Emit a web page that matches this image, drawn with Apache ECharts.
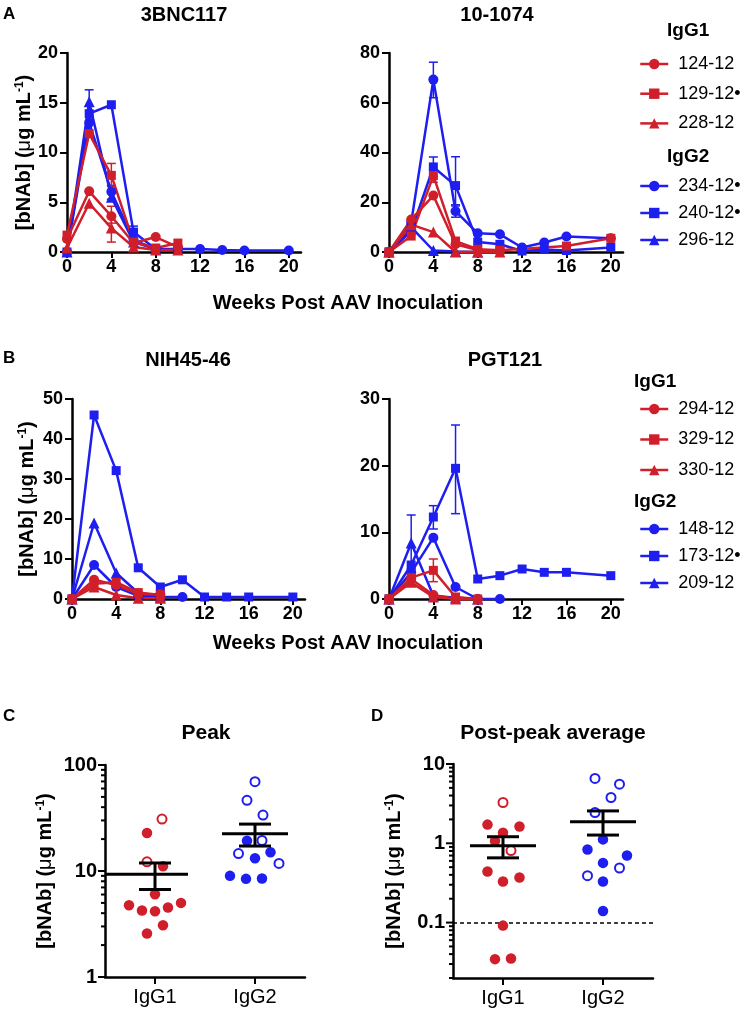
<!DOCTYPE html>
<html><head><meta charset="utf-8">
<script src="https://cdn.jsdelivr.net/npm/echarts@6/dist/echarts.min.js"></script>
<style>html,body{margin:0;padding:0;background:#fff}#c{width:747px;height:1012px}</style>
</head><body><div id="c"></div>
<script>
// ---------- DATA ----------
const weeks = [0, 2, 4, 6, 8, 10, 12, 14, 16, 20];
const weekTicks = [0, 4, 8, 12, 16, 20];
const groups = ['IgG1', 'IgG2'];

// Panel A, 3BNC117
const a3bnc_124 = [1.3, 6.1, 3.6, 0.9, 1.5, 0.5];
const a3bnc_129 = [1.7, 11.9, 7.7, 1.0, 0.4, 0.9];
const a3bnc_228 = [0.4, 4.9, 2.4, 0.5, 0.2, 0.2];
const a3bnc_234 = [0, 13.0, 6.06, 1.2, 0.3, 0.3, 0.3, 0.2, 0.15, 0.15];
const a3bnc_240 = [0, 13.9, 14.8, 2.0, 0.3, 0.2];
const a3bnc_296 = [0, 15.1, 5.5, 1.0, 0.3];
const a3bnc_errRed = [[4, 6.6, 8.9], [4, 1.0, 3.5], [4, 2.9, 4.6]];
const a3bnc_errBlue = [[2, 11.8, 16.3], [4, 5.3, 6.7], [6, 1.4, 2.6]];

// Panel A, 10-1074
const a10_124 = [0, 13.1, 22.7, 3.1, 0.8, 0.5];
const a10_129 = [0, 6.4, 30.7, 4.4, 1.1, 0.7, null, null, 2.4, 5.5];
const a10_228 = [0, 11, 8.0, 0, 0, 0];
const a10_234 = [0, 11.8, 69.3, 16.4, 7.5, 7.1, 1.8, 3.8, 6.2, 5.5];
const a10_240 = [0, 8.4, 34.2, 26.7, 4.0, 3.1, 0.4, 1.0, 0.6, 1.8];
const a10_296 = [0, 10, 0.6, 0.2, 0];
const a10_errRed = [[4, 28, 33]];
const a10_errBlue = [[4, 62, 76.3], [4, 30.5, 38.2], [6, 18.5, 38.3], [6, 14, 19]];

// Panel B, NIH45-46
const bNih_294 = [0, 4.8, 3.5, 1.2, 1.2];
const bNih_329 = [0, 3.8, 4.2, 1.6, 1.0];
const bNih_330 = [0, 3.0, 1.0, 0.2, 0.2];
const bNih_148 = [0, 8.5, 3.0, 0.8, 0.5, 0.5];
const bNih_173 = [0, 46, 32.1, 7.8, 3.0, 4.8, 0.5, 0.5, 0.5, 0.5];
const bNih_209 = [0, 19, 6.5, 1.5, 0.5];

// Panel B, PGT121
const bPgt_294 = [0, 3.0, 0.6, 0, 0];
const bPgt_329 = [0, 3.2, 4.3, 0.3, 0];
const bPgt_330 = [0, 2.5, 0.3, 0, 0];
const bPgt_148 = [0, 4.0, 9.2, 1.8, 0, 0];
const bPgt_173 = [0, 5.1, 12.3, 19.6, 3.0, 3.5, 4.5, 4.0, 4.0, 3.5];
const bPgt_209 = [0, 8.4, 0.5, 0.2, 0];
const bPgt_errRed = [[4, 2.6, 6.0]];
const bPgt_errBlue = [[2, 4.5, 12.6], [4, 10.5, 14], [6, 12.8, 26.1]];

// Panel C, Peak
const peakIgG1 = [30.9, 22.8, 12.2, 11.1, 6.04, 4.75, 4.24, 4.17, 4.52, 5.0, 3.08, 2.57];
const peakIgG1Open = [1, 0, 1, 0, 0, 0, 0, 0, 0, 0, 0, 0];
const peakIgG1Jitter = [0.07, -0.08, -0.08, 0.08, 0, -0.26, -0.13, 0, 0.13, 0.26, 0.08, -0.08];
const peakIgG2 = [69.6, 46.4, 33.7, 19.4, 19.3, 14.6, 15.0, 13.2, 11.8, 9.0, 8.43, 8.5];
const peakIgG2Open = [1, 1, 1, 1, 0, 1, 0, 0, 1, 0, 0, 0];
const peakIgG2Jitter = [0, -0.08, 0.08, 0.07, -0.08, -0.165, 0.155, 0, 0.24, -0.25, -0.09, 0.07];
const peakMean = [9.33, 22.4];
const peakSemLow = [6.69, 17.2];
const peakSemHigh = [11.9, 27.7];

// Panel D, Post-peak average
const postIgG1 = [3.27, 1.72, 1.63, 1.36, 1.07, 0.81, 0.44, 0.37, 0.33, 0.0916, 0.0346, 0.0353];
const postIgG1Open = [1, 0, 0, 0, 0, 1, 0, 0, 0, 0, 0, 0];
const postIgG1Jitter = [0, -0.155, 0.165, 0, -0.08, 0.08, -0.155, 0.165, 0, 0, -0.08, 0.08];
const postIgG2 = [6.58, 5.57, 3.78, 2.44, 1.12, 0.836, 0.70, 0.566, 0.488, 0.39, 0.33, 0.14];
const postIgG2Open = [1, 1, 1, 1, 0, 0, 0, 0, 1, 1, 0, 0];
const postIgG2Jitter = [-0.08, 0.165, 0.08, -0.08, 0, -0.155, 0.24, 0, 0.165, -0.155, 0, 0];
const postMean = [0.93, 1.87];
const postSemLow = [0.655, 1.27];
const postSemHigh = [1.21, 2.56];
const detectionLimit = 0.1;

// ---------- STYLE ----------
const FONT = '"Liberation Sans", Arial, Helvetica, sans-serif';
const RED = '#D01F2A';
const BLUE = '#1E1EF0';
const BLACK = '#000';

const yName = '{b|[bNAb] (}{m|\u03bc}{b|g mL}{s|-1}{b|)}';
const nameStyle = {
  fontFamily: FONT, color: BLACK,
  rich: {
    b: {fontSize: 20, fontWeight: 'bold', fontFamily: FONT, color: BLACK},
    m: {fontSize: 20, fontWeight: 'normal', fontFamily: FONT, color: BLACK},
    s: {fontSize: 12, fontWeight: 'bold', fontFamily: FONT, color: BLACK, verticalAlign: 'top'}
  }
};
const axLine = {show: true, onZero: false, lineStyle: {color: BLACK, width: 2.5}};

function weekAxis(g) {
  return {type: 'value', gridIndex: g, min: 0, max: 21.1,
    axisLine: axLine,
    axisTick: {show: true, customValues: weekTicks, length: 6, lineStyle: {color: BLACK, width: 2}},
    axisLabel: {customValues: weekTicks, margin: 6, fontSize: 18, fontWeight: 'bold', color: BLACK, fontFamily: FONT},
    splitLine: {show: false}};
}
function concAxis(g, max, interval, gap) {
  const ax = {type: 'value', gridIndex: g, min: 0, max: max, interval: interval,
    axisLine: axLine,
    axisTick: {show: true, length: 7, lineStyle: {color: BLACK, width: 2}},
    axisLabel: {margin: 9, fontSize: 18, fontWeight: 'bold', color: BLACK, fontFamily: FONT},
    splitLine: {show: false}};
  if (gap != null) {
    ax.name = yName; ax.nameLocation = 'middle'; ax.nameRotate = 90; ax.nameGap = gap; ax.nameTextStyle = nameStyle;
  }
  return ax;
}
function groupAxis(g) {
  return {type: 'value', gridIndex: g, min: 0.5, max: 2.5,
    axisLine: axLine,
    axisTick: {show: true, customValues: [1, 2], length: 7, lineStyle: {color: BLACK, width: 2}},
    axisLabel: {customValues: [1, 2], margin: 10, fontSize: 20, color: BLACK, fontFamily: FONT,
      formatter: v => groups[Math.round(v) - 1]},
    splitLine: {show: false}};
}
function logAxis(g, min, max, gap) {
  return {type: 'log', logBase: 10, gridIndex: g, min: min, max: max,
    axisLine: axLine, axisTick: {show: false},
    axisLabel: {margin: 8, fontSize: 20, fontWeight: 'bold', color: BLACK, fontFamily: FONT,
      formatter: v => { const l = Math.log10(v); return Math.abs(l - Math.round(l)) < 1e-6 ? String(+Math.pow(10, Math.round(l)).toPrecision(3)) : ''; }},
    splitLine: {show: false}, minorSplitLine: {show: false},
    name: yName, nameLocation: 'middle', nameRotate: 90, nameGap: gap, nameTextStyle: nameStyle};
}

const symSize = {circle: 10, rect: 9, triangle: 11};
function ls(name, vals, color, symbol, p) {
  return {type: 'line', name: name, xAxisIndex: p, yAxisIndex: p,
    data: weeks.map((w, i) => [w, vals[i]]).filter(d => d[1] != null),
    symbol: symbol, symbolSize: symSize[symbol], showAllSymbol: true,
    lineStyle: {color: color, width: 2.5}, itemStyle: {color: color, opacity: 1},
    emphasis: {disabled: true}, clip: false, z: 3};
}
function errSeries(p, data, color) {
  return {type: 'custom', xAxisIndex: p, yAxisIndex: p, data: data, silent: true, clip: false, z: 2,
    renderItem(params, api) {
      const x = api.value(0), lo = api.value(1), hi = api.value(2);
      const a = api.coord([x, lo]), b = api.coord([x, hi]);
      const w = 4.5, st = {stroke: color, lineWidth: 1.5};
      return {type: 'group', children: [
        {type: 'line', shape: {x1: a[0], y1: a[1], x2: b[0], y2: b[1]}, style: st},
        {type: 'line', shape: {x1: a[0] - w, y1: a[1], x2: a[0] + w, y2: a[1]}, style: st},
        {type: 'line', shape: {x1: b[0] - w, y1: b[1], x2: b[0] + w, y2: b[1]}, style: st}
      ]};
    }};
}
function dots(p, vals, openFlags, jitter, center, color, open) {
  const data = vals.map((v, i) => [center + jitter[i], v, openFlags[i]]).filter(d => !!d[2] === open).map(d => [d[0], d[1]]);
  return {type: 'scatter', xAxisIndex: p, yAxisIndex: p, data: data, symbol: 'circle',
    symbolSize: open ? 9 : 10.5, clip: false, z: 3, emphasis: {disabled: true},
    itemStyle: open ? {color: '#fff', borderColor: color, borderWidth: 2, opacity: 1} : {color: color, opacity: 1}};
}
function meanSeries(p, means, lows, highs, leftSpans) {
  return {type: 'custom', xAxisIndex: p, yAxisIndex: p, silent: true, clip: false, z: 5,
    data: means.map((m, i) => [i + 1, m, lows[i], highs[i]]),
    renderItem(params, api) {
      const x = api.value(0), m = api.value(1), lo = api.value(2), hi = api.value(3);
      const L = leftSpans[params.dataIndex];
      const a = api.coord([x - L, m]), b = api.coord([x + 0.33, m]);
      const c1 = api.coord([x, lo]), c2 = api.coord([x, hi]);
      const cw = (api.coord([x + 0.16, lo])[0] - c1[0]);
      const st = {stroke: BLACK, lineWidth: 3};
      return {type: 'group', children: [
        {type: 'line', shape: {x1: a[0], y1: a[1], x2: b[0], y2: b[1]}, style: st},
        {type: 'line', shape: {x1: c1[0], y1: c1[1], x2: c2[0], y2: c2[1]}, style: st},
        {type: 'line', shape: {x1: c1[0] - cw, y1: c1[1], x2: c1[0] + cw, y2: c1[1]}, style: st},
        {type: 'line', shape: {x1: c2[0] - cw, y1: c2[1], x2: c2[0] + cw, y2: c2[1]}, style: st}
      ]};
    }};
}
function logTickSeries(p, min, max) {
  const t = [];
  for (let e = -3; e <= 3; e++) for (let k = 1; k <= 9; k++) {
    const v = +(k * Math.pow(10, e)).toPrecision(3);
    if (v >= min * 0.999 && v <= max * 1.001) t.push([0.5, v, k === 1 ? 1 : 0]);
  }
  return {type: 'custom', xAxisIndex: p, yAxisIndex: p, silent: true, clip: false, z: 4, data: t,
    renderItem(params, api) {
      const c = api.coord([api.value(0), api.value(1)]);
      const len = api.value(2) ? 7 : 4;
      return {type: 'line', shape: {x1: c[0] - len, y1: c[1], x2: c[0], y2: c[1]}, style: {stroke: BLACK, lineWidth: 2}};
    }};
}

function legend(names, top, gap, left) {
  return {data: names, orient: 'vertical', left: left, top: top, itemWidth: 28, itemHeight: 13, itemGap: gap,
    selectedMode: false, lineStyle: {width: 2.5}, itemStyle: {opacity: 1},
    textStyle: {fontSize: 18, color: BLACK, fontFamily: FONT, padding: [0, 0, 0, 5]}};
}
function txt(text, x, y, size, bold, align) {
  return {type: 'text', x: x, y: y, silent: true,
    style: {text: text, fontSize: size, fontWeight: bold ? 'bold' : 'normal', fontFamily: FONT, fill: BLACK,
      align: align || 'center', verticalAlign: 'middle'}};
}

const option = {
  animation: false,
  backgroundColor: '#fff',
  grid: [
    {left: 67, top: 53, width: 234, height: 199},
    {left: 389, top: 53, width: 234, height: 199},
    {left: 72, top: 399, width: 233, height: 200},
    {left: 389, top: 399, width: 234, height: 200},
    {left: 105, top: 765, width: 200, height: 212},
    {left: 453, top: 764, width: 200, height: 214}
  ],
  xAxis: [weekAxis(0), weekAxis(1), weekAxis(2), weekAxis(3), groupAxis(4), groupAxis(5)],
  yAxis: [concAxis(0, 20, 5, 31), concAxis(1, 80, 20, null), concAxis(2, 50, 10, 35), concAxis(3, 30, 10, null),
    logAxis(4, 1, 100, 50), logAxis(5, 0.02, 10, 49)],
  legend: [
    legend(['124-12', '129-12\u2022', '228-12'], 50, 11.7, 634),
    legend(['234-12\u2022', '240-12\u2022', '296-12'], 172, 9, 634),
    legend(['294-12', '329-12', '330-12'], 395, 12.5, 634),
    legend(['148-12', '173-12\u2022', '209-12'], 515, 9, 634)
  ],
  graphic: [
    txt('A', 3, 14, 17, true, 'left'),
    txt('B', 3, 358, 17, true, 'left'),
    txt('C', 3, 716, 17, true, 'left'),
    txt('D', 371, 716, 17, true, 'left'),
    txt('3BNC117', 184, 15, 20, true),
    txt('10-1074', 497, 15, 20, true),
    txt('NIH45-46', 188, 360, 20, true),
    txt('PGT121', 505, 360, 20, true),
    txt('Peak', 206, 733, 21, true),
    txt('Post-peak average', 553, 733, 21, true),
    txt('Weeks Post AAV Inoculation', 348, 303, 20, true),
    txt('Weeks Post AAV Inoculation', 348, 643, 20, true),
    txt('IgG1', 667, 31, 19, true, 'left'),
    txt('IgG2', 667, 157, 19, true, 'left'),
    txt('IgG1', 634, 382, 19, true, 'left'),
    txt('IgG2', 634, 502, 19, true, 'left')
  ],
  series: [
    errSeries(0, a3bnc_errBlue, BLUE),
    ls('234-12\u2022', a3bnc_234, BLUE, 'circle', 0),
    ls('240-12\u2022', a3bnc_240, BLUE, 'rect', 0),
    ls('296-12', a3bnc_296, BLUE, 'triangle', 0),
    errSeries(0, a3bnc_errRed, RED),
    ls('124-12', a3bnc_124, RED, 'circle', 0),
    ls('129-12\u2022', a3bnc_129, RED, 'rect', 0),
    ls('228-12', a3bnc_228, RED, 'triangle', 0),

    errSeries(1, a10_errBlue, BLUE),
    ls('234-12\u2022', a10_234, BLUE, 'circle', 1),
    ls('240-12\u2022', a10_240, BLUE, 'rect', 1),
    ls('296-12', a10_296, BLUE, 'triangle', 1),
    errSeries(1, a10_errRed, RED),
    ls('124-12', a10_124, RED, 'circle', 1),
    ls('129-12\u2022', a10_129, RED, 'rect', 1),
    ls('228-12', a10_228, RED, 'triangle', 1),

    ls('148-12', bNih_148, BLUE, 'circle', 2),
    ls('173-12\u2022', bNih_173, BLUE, 'rect', 2),
    ls('209-12', bNih_209, BLUE, 'triangle', 2),
    ls('294-12', bNih_294, RED, 'circle', 2),
    ls('329-12', bNih_329, RED, 'rect', 2),
    ls('330-12', bNih_330, RED, 'triangle', 2),

    errSeries(3, bPgt_errBlue, BLUE),
    ls('148-12', bPgt_148, BLUE, 'circle', 3),
    ls('173-12\u2022', bPgt_173, BLUE, 'rect', 3),
    ls('209-12', bPgt_209, BLUE, 'triangle', 3),
    errSeries(3, bPgt_errRed, RED),
    ls('294-12', bPgt_294, RED, 'circle', 3),
    ls('329-12', bPgt_329, RED, 'rect', 3),
    ls('330-12', bPgt_330, RED, 'triangle', 3),

    logTickSeries(4, 1, 100),
    dots(4, peakIgG1, peakIgG1Open, peakIgG1Jitter, 1, RED, false),
    dots(4, peakIgG1, peakIgG1Open, peakIgG1Jitter, 1, RED, true),
    dots(4, peakIgG2, peakIgG2Open, peakIgG2Jitter, 2, BLUE, false),
    dots(4, peakIgG2, peakIgG2Open, peakIgG2Jitter, 2, BLUE, true),
    meanSeries(4, peakMean, peakSemLow, peakSemHigh, [0.5, 0.33]),

    logTickSeries(5, 0.02, 10),
    Object.assign(dots(5, postIgG1, postIgG1Open, postIgG1Jitter, 1, RED, false), {
      markLine: {silent: true, symbol: 'none', label: {show: false}, z: 1,
        lineStyle: {color: BLACK, type: [4, 3], width: 1.5}, data: [{yAxis: detectionLimit}]}}),
    dots(5, postIgG1, postIgG1Open, postIgG1Jitter, 1, RED, true),
    dots(5, postIgG2, postIgG2Open, postIgG2Jitter, 2, BLUE, false),
    dots(5, postIgG2, postIgG2Open, postIgG2Jitter, 2, BLUE, true),
    meanSeries(5, postMean, postSemLow, postSemHigh, [0.33, 0.33])
  ]
};
const chart = echarts.init(document.getElementById('c'), null, {renderer: 'canvas'});
chart.setOption(option);
</script></body></html>
